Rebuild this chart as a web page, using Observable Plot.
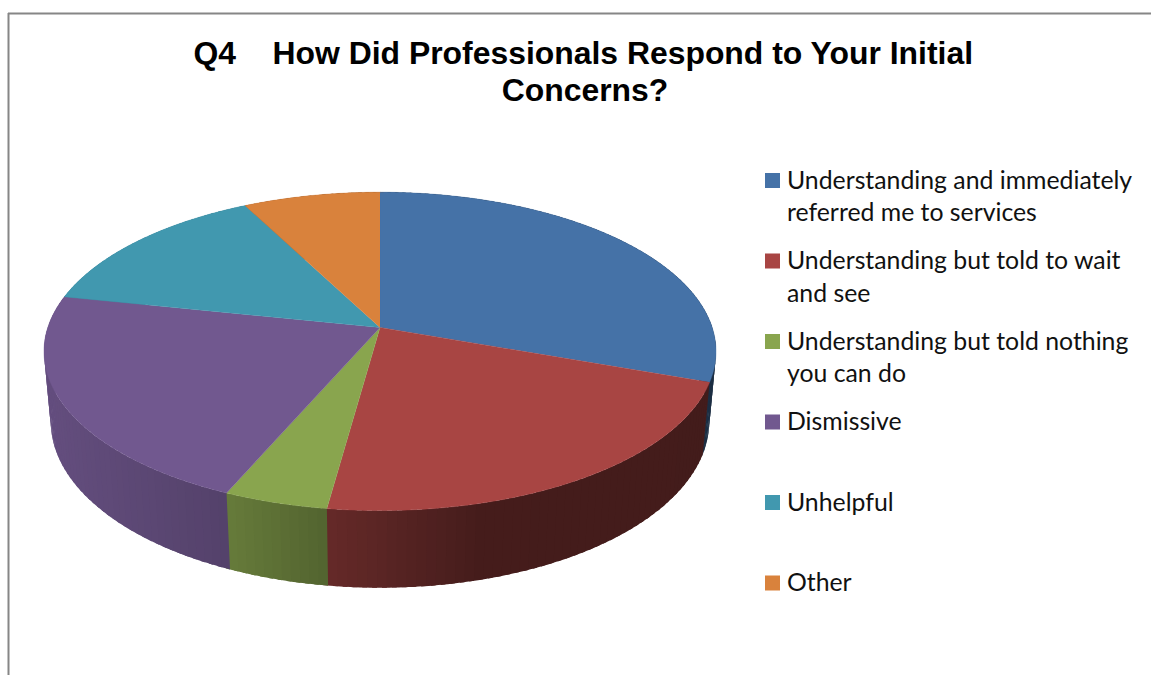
<!DOCTYPE html>
<html>
<head>
<meta charset="utf-8">
<title>Q4 How Did Professionals Respond to Your Initial Concerns?</title>
<script src="https://cdn.jsdelivr.net/npm/d3@7"></script>
<script src="https://cdn.jsdelivr.net/npm/@observablehq/plot@0.6"></script>
<style>
  html, body { margin: 0; padding: 0; background: #fff; overflow: hidden; }
  svg { display: block; }
</style>
</head>
<body>
<div id="chart"></div>
<script>
// Responses per category
const categories = [
  "Understanding and immediately referred me to services",
  "Understanding but told to wait and see",
  "Understanding but told nothing you can do",
  "Dismissive",
  "Unhelpful",
  "Other"
];
const counts = [28, 20, 4, 20, 13, 7];
const sliceColors = ["#4572a7", "#a84543", "#89a54e", "#71588f", "#4198af", "#d9823c"];
const legendLines = [
  ["Understanding and immediately", "referred me to services"],
  ["Understanding but told to wait", "and see"],
  ["Understanding but told nothing", "you can do"],
  ["Dismissive"],
  ["Unhelpful"],
  ["Other"]
];

// Perspective disc: the centre of the pie, its size and the tilt of the camera
const view = {cx: 379.5, cy: 327, radius: 332.2, depth: 155.6, tilt: 0.15, drop: 70.8, recede: 0.02};
const stepDeg = 1.5;

// Project a pie angle (clockwise from 12 o'clock) on the top or bottom face
function project(theta, bottom = false) {
  const u = Math.sin(theta), v = -Math.cos(theta);
  const w = 1 - view.tilt * v + (bottom ? view.recede : 0);
  return {
    x: view.cx + view.radius * u / w,
    y: view.cy + (view.depth * v + (bottom ? view.drop : 0)) / w
  };
}

// Darkening of the side wall, running left to right across the pie
const wallShade = d3.scaleLinear()
  .domain([50, 230, 328, 480, 720])
  .range([0.88, 0.74, 0.6, 0.41, 0.4])
  .clamp(true);

function darken(hex, f) {
  const c = d3.rgb(hex);
  return d3.rgb(c.r * f, c.g * f, c.b * f).formatHex();
}

const arcs = d3.pie().sort(null).value((d) => d)(counts);
const topFaces = [];
const wallStrips = [];

arcs.forEach((arc, i) => {
  const color = sliceColors[i];
  const steps = Math.max(2, Math.ceil((arc.endAngle - arc.startAngle) / (stepDeg * Math.PI / 180)));
  const angleAt = (k) => arc.startAngle + (arc.endAngle - arc.startAngle) * k / steps;

  // Flat top of the slice: centre, then along the rim
  topFaces.push({id: `top-${i}`, color, x: view.cx, y: view.cy});
  const rimSteps = steps * 4;
  for (let k = 0; k <= rimSteps; ++k) {
    const p = project(angleAt(k / 4));
    topFaces.push({id: `top-${i}`, color, ...p});
  }

  // Side wall as flat-shaded strips; each runs a little under the next one
  for (let k = 0; k < steps; ++k) {
    const id = `wall-${i}-${k}`;
    const mid = project(angleAt(k + 0.5));
    const shaded = darken(color, wallShade(mid.x));
    const outline = [];
    for (let s = 0; s <= 4; ++s) outline.push(project(angleAt(k + s * 0.375)));
    for (let s = 4; s >= 0; --s) outline.push(project(angleAt(k + s * 0.375), true));
    for (const p of outline) wallStrips.push({id, color: shaded, ...p});
  }
});

// Legend layout
const legendBase = (i) => 188 + 80.5 * i;
const legendRows = categories.map((name, i) => ({name, color: sliceColors[i], base: legendBase(i)}));
const legendText = legendLines.flatMap((lines, i) =>
  lines.map((text, j) => ({text, base: legendBase(i) + 32.5 * j}))
);

const titleFont = {fontFamily: "'Liberation Sans', Arial, sans-serif", fontWeight: "bold", fontSize: 31.9, fill: "#000", lineAnchor: "bottom"};
const legendFont = {fontFamily: "Lato, sans-serif", fontSize: 24.8, fill: "#111", lineAnchor: "bottom", textAnchor: "start"};

const chart = Plot.plot({
  width: 1151,
  height: 675,
  margin: 0,
  style: {background: "#fff", overflow: "hidden"},
  x: {type: "linear", domain: [0, 1151], range: [0, 1151], axis: null},
  y: {type: "linear", domain: [0, 675], range: [0, 675], axis: null},
  marks: [
    // Chart frame, cut off on the right and at the bottom
    Plot.ruleY([13], {x1: 8, x2: 1151, stroke: "#868686", strokeWidth: 2}),
    Plot.ruleX([8], {y1: 13, y2: 675, stroke: "#868686", strokeWidth: 2}),

    Plot.line(wallStrips, {x: "x", y: "y", z: "id", fill: "color"}),
    Plot.line(topFaces, {x: "x", y: "y", z: "id", fill: "color", stroke: "color", strokeWidth: 0.4}),

    Plot.text(["Q4"], {x: 193, y: 63, text: (d) => d, textAnchor: "start", ...titleFont}),
    Plot.text(["How Did Professionals Respond to Your Initial"], {x: 272, y: 63, text: (d) => d, textAnchor: "start", ...titleFont}),
    Plot.text(["Concerns?"], {x: 584.5, y: 100.5, text: (d) => d, textAnchor: "middle", ...titleFont}),

    Plot.rect(legendRows, {
      x1: () => 765, x2: () => 780,
      y1: (d) => d.base - 15, y2: (d) => d.base,
      fill: "color"
    }),
    Plot.text(legendText, {x: () => 786.5, y: "base", text: "text", ...legendFont})
  ]
});

document.getElementById("chart").append(chart);
</script>
</body>
</html>
